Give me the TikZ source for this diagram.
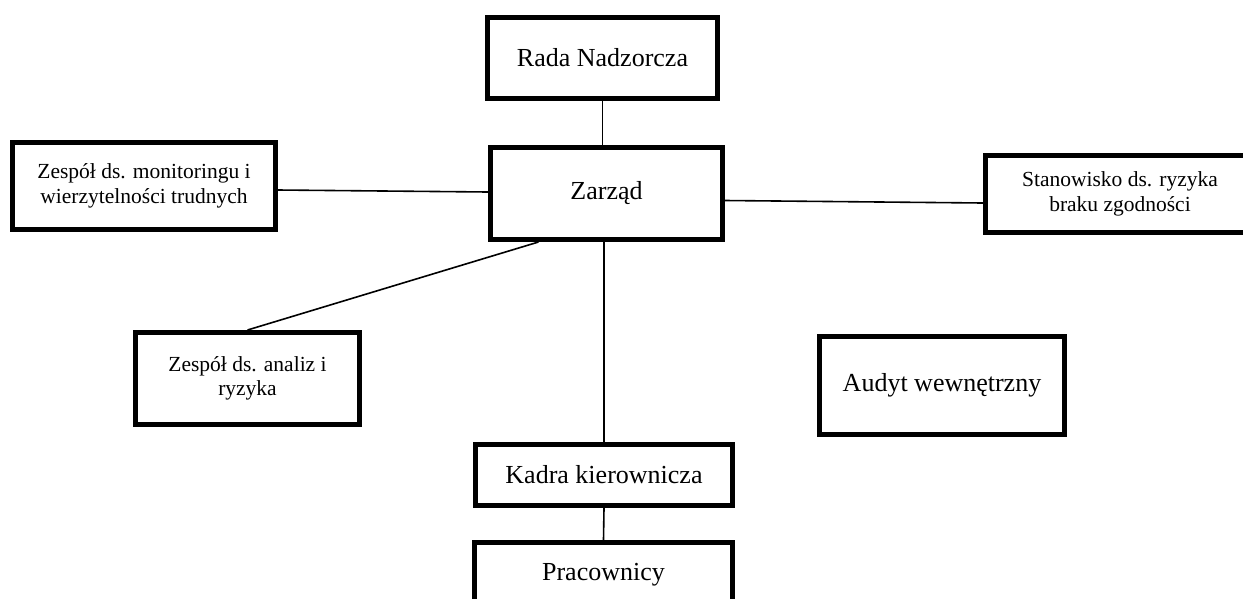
\documentclass[tikz,border=0pt]{standalone}
\usepackage{fontspec}
\setmainfont{Liberation Serif}
\usepackage{tikz}
\usetikzlibrary{calc, positioning}

\begin{document}
\begin{tikzpicture}[x=1pt, y=-1pt,
    unit/.style={draw, line width=5pt, inner sep=0pt, align=center, font=\fontsize{26}{30}\selectfont},
    smallunit/.style={unit, font=\fontsize{21.5}{24.5}\selectfont},
    link/.style={line width=1.6pt}]
                        \clip (0, 0) rectangle (1243, 598);
                        \node[unit, minimum width=230, minimum height=81] (rada) at (602.5, 58) {Rada Nadzorcza};
                        \node[unit, minimum width=232, minimum height=92] (zarzad) at (606.5, 193.5) {Zarząd};
                        \node[smallunit, minimum width=263, minimum height=87] (monitor) at (144, 186) {Zespół ds. monitoringu i\\wierzytelności trudnych};
                        \node[smallunit, minimum width=269, minimum height=77] (zgodnosc) at (1120, 194) {Stanowisko ds. ryzyka\\braku zgodności};
                        \node[smallunit, minimum width=224, minimum height=92] (analizy) at (247.5, 378.5) {Zespół ds. analiz i\\ryzyka};
                        \node[unit, minimum width=245, minimum height=98] (audyt) at (942, 385.5) {Audyt wewnętrzny};
                        \node[unit, minimum width=257, minimum height=61] (kadra) at (604, 475) {Kadra kierownicza};
                        \node[unit, minimum width=258, minimum height=65] (prac) at (603.5, 575) {Pracownicy};
                        \draw[link]
                        (rada.south) edge (rada.south |- zarzad.north)
                        ([yshift=-4pt]monitor.east) edge ([yshift=1.5pt]zarzad.west)
                        ([yshift=-7pt]zarzad.east) edge ([yshift=-9pt]zgodnosc.west)
                        ([xshift=-68pt]zarzad.south) edge (analizy.north)
                        (kadra.north |- zarzad.south) edge (kadra.north)
                        (kadra.south) edge (prac.north);
                    \end{tikzpicture}
\end{document}
